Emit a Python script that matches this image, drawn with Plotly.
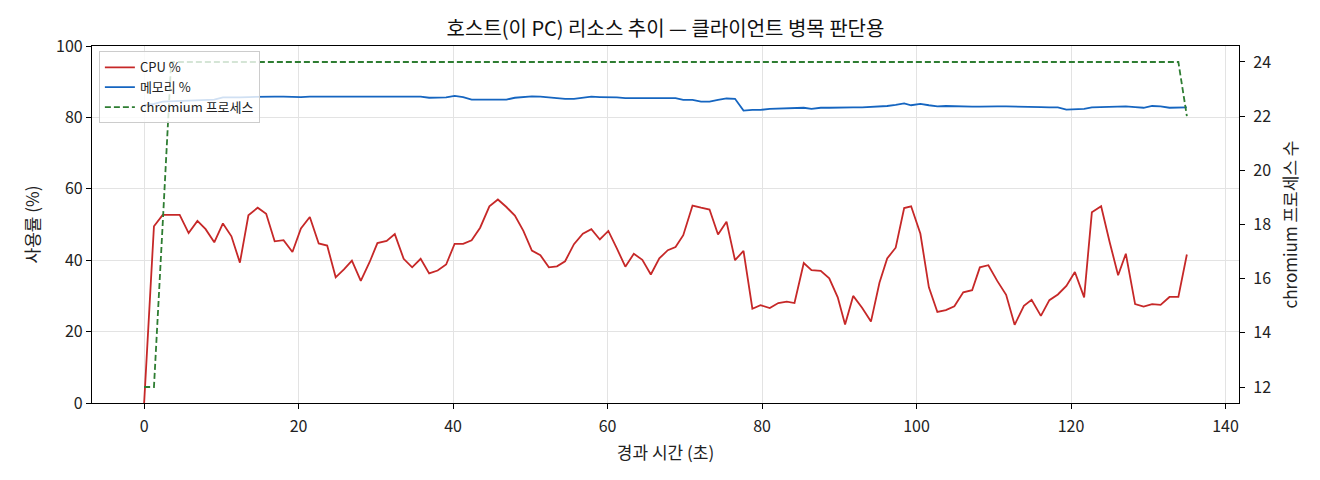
import plotly.graph_objects as go

# ---- data ----
elapsed_s = [
    0, 1.27, 2.4, 3.5, 4.6, 5.76, 6.9, 7.96, 9.08, 10.2,
    11.3, 12.4, 13.5, 14.7, 15.8, 16.9, 18.05, 19.2, 20.3, 21.45,
    22.6, 23.7, 24.8, 25.9, 26.9, 28.05, 29.2, 30.2, 31.4, 32.45,
    33.6, 34.7, 35.8, 36.9, 38.0, 39.1, 40.2, 41.3, 42.4, 43.5,
    44.7, 45.8, 46.9, 48.0, 49.1, 50.2, 51.3, 52.4, 53.45, 54.5,
    55.65, 56.8, 57.9, 59.0, 60.1, 61.2, 62.3, 63.4, 64.5, 65.6,
    66.7, 67.8, 68.8, 69.8, 71.0, 72.1, 73.2, 74.3, 75.4, 76.5,
    77.6, 78.75, 79.8, 81.0, 82.1, 83.2, 84.2, 85.4, 86.4, 87.6,
    88.7, 89.8, 90.75, 91.8, 92.95, 94.1, 95.2, 96.2, 97.3, 98.4,
    99.3, 100.5, 101.6, 102.7, 103.8, 104.9, 106.05, 107.2, 108.2, 109.3,
    110.45, 111.6, 112.7, 113.9, 114.9, 116.1, 117.2, 118.3, 119.4, 120.5,
    121.7, 122.7, 123.9, 125.0, 126.1, 127.1, 128.3, 129.4, 130.5, 131.6,
    132.75, 133.9, 135.0,
]

cpu_pct = [
    0, 49.5, 52.7, 52.7, 52.7, 47.6, 51.0, 48.7, 45.0, 50.3,
    46.7, 39.3, 52.6, 54.7, 53.0, 45.3, 45.6, 42.3, 48.9, 52.1,
    44.7, 44.1, 35.2, 37.5, 39.9, 34.2, 39.5, 44.8, 45.4, 47.3,
    40.4, 38.0, 40.4, 36.3, 37.1, 38.8, 44.6, 44.6, 45.6, 49.1,
    55.1, 57.0, 54.9, 52.5, 48.2, 42.7, 41.4, 38.0, 38.3, 39.7,
    44.5, 47.4, 48.7, 45.8, 48.2, 43.3, 38.2, 41.8, 40.1, 36.0,
    40.5, 42.8, 43.7, 47.0, 55.3, 54.7, 54.2, 47.2, 50.8, 40.0,
    42.6, 26.4, 27.4, 26.6, 28.0, 28.4, 28.0, 39.2, 37.2, 37.0,
    34.9, 29.6, 22.0, 30.0, 26.7, 22.8, 33.7, 40.5, 43.5, 54.6,
    55.1, 47.4, 32.4, 25.5, 26.0, 27.1, 31.0, 31.6, 38.0, 38.6,
    34.2, 30.3, 21.9, 27.2, 28.9, 24.4, 28.8, 30.4, 32.8, 36.7,
    29.6, 53.4, 55.1, 45.1, 35.8, 41.8, 27.7, 27.0, 27.7, 27.5,
    29.7, 29.7, 41.6,
]

mem_pct = [
    83.4, 83.8, 84.4, 84.5, 84.5, 84.6, 84.6, 84.8, 85.0, 85.6,
    85.5, 85.6, 85.7, 85.8, 85.8, 85.8, 85.8, 85.7, 85.7, 85.8,
    85.8, 85.8, 85.8, 85.8, 85.8, 85.8, 85.8, 85.7, 85.7, 85.8,
    85.7, 85.7, 85.8, 85.5, 85.6, 85.6, 86.0, 85.7, 85.0, 85.0,
    84.8, 84.9, 85.0, 85.5, 85.7, 85.9, 85.8, 85.6, 85.3, 85.2,
    85.2, 85.4, 85.8, 85.7, 85.7, 85.6, 85.4, 85.4, 85.3, 85.3,
    85.2, 85.2, 85.4, 84.9, 84.9, 84.4, 84.4, 84.9, 85.3, 85.2,
    81.9, 82.1, 82.1, 82.4, 82.5, 82.6, 82.6, 82.7, 82.4, 82.7,
    82.7, 82.8, 82.8, 82.8, 82.8, 82.9, 83.0, 83.2, 83.5, 83.9,
    83.4, 83.8, 83.4, 83.1, 83.2, 83.1, 82.9, 83.0, 83.0, 83.1,
    83.1, 83.1, 83.1, 83.1, 83.0, 82.9, 82.8, 82.8, 82.2, 82.3,
    82.4, 82.8, 82.9, 83.0, 83.0, 83.1, 82.9, 82.7, 83.2, 83.1,
    82.7, 82.7, 82.8,
]

chromium_procs = [
    12, 12, 18, 24, 24, 24, 24, 24, 24, 24,
    24, 24, 24, 24, 24, 24, 24, 24, 24, 24,
    24, 24, 24, 24, 24, 24, 24, 24, 24, 24,
    24, 24, 24, 24, 24, 24, 24, 24, 24, 24,
    24, 24, 24, 24, 24, 24, 24, 24, 24, 24,
    24, 24, 24, 24, 24, 24, 24, 24, 24, 24,
    24, 24, 24, 24, 24, 24, 24, 24, 24, 24,
    24, 24, 24, 24, 24, 24, 24, 24, 24, 24,
    24, 24, 24, 24, 24, 24, 24, 24, 24, 24,
    24, 24, 24, 24, 24, 24, 24, 24, 24, 24,
    24, 24, 24, 24, 24, 24, 24, 24, 24, 24,
    24, 24, 24, 24, 24, 24, 24, 24, 24, 24,
    24, 24, 22,
]

x_ticks = [0, 20, 40, 60, 80, 100, 120, 140]
y_ticks = [0, 20, 40, 60, 80, 100]
y2_ticks = [12, 14, 16, 18, 20, 22, 24]

TITLE = "호스트(이 PC) 리소스 추이 — 클라이언트 병목 판단용"
FONT = "Noto Sans CJK KR"
RED = "#c62828"
BLUE = "#1565c0"
GREEN = "#2e7d32"

fig = go.Figure()
fig.add_trace(go.Scatter(x=elapsed_s, y=cpu_pct, mode="lines", name="CPU %",
                         line=dict(color=RED, width=1.8)))
fig.add_trace(go.Scatter(x=elapsed_s, y=mem_pct, mode="lines", name="메모리 %",
                         line=dict(color=BLUE, width=1.8)))
fig.add_trace(go.Scatter(x=elapsed_s, y=chromium_procs, mode="lines", name="chromium 프로세스",
                         yaxis="y2", line=dict(color=GREEN, width=1.8, dash="6px,3px")))

axis_common = dict(
    showline=True, linecolor="black", linewidth=1.2,
    ticks="outside", ticklen=5, tickwidth=1, tickcolor="black",
    tickfont=dict(family=FONT, size=16, color="#222"),
    zeroline=False,
)

fig.update_layout(
    width=1320, height=480,
    margin=dict(l=84, r=89, t=38, b=85),
    paper_bgcolor="white", plot_bgcolor="white",
    font=dict(family=FONT, color="#222"),
    title=dict(text=TITLE, x=0.5, xref="paper", y=0.956, yref="container",
               yanchor="middle", font=dict(family=FONT, size=20, color="#111")),
    xaxis=dict(range=[-6.75, 141.75], tickvals=x_ticks, mirror=True,
               showgrid=True, gridcolor="#e3e3e3", gridwidth=1,
               ticklabelstandoff=4,
               title=dict(text="경과 시간 (초)", font=dict(family=FONT, size=17), standoff=10),
               **axis_common),
    yaxis=dict(range=[0, 100], tickvals=y_ticks, mirror=True,
               showgrid=True, gridcolor="#e3e3e3", gridwidth=1,
               title=dict(text="사용률 (%)", font=dict(family=FONT, size=17), standoff=12),
               **axis_common),
    yaxis2=dict(range=[11.41, 24.59], tickvals=y2_ticks, overlaying="y", side="right",
                showgrid=False, anchor="x", ticklabelstandoff=5,
                title=dict(text="chromium 프로세스 수", font=dict(family=FONT, size=17), standoff=14),
                **axis_common),
    legend=dict(x=0.006, y=0.985, xanchor="left", yanchor="top",
                bgcolor="rgba(255,255,255,0.8)", bordercolor="#cccccc", borderwidth=1,
                font=dict(family=FONT, size=13, color="#222"),
                tracegroupgap=0, itemwidth=30),
    showlegend=True,
)

fig.write_html("out.html")
